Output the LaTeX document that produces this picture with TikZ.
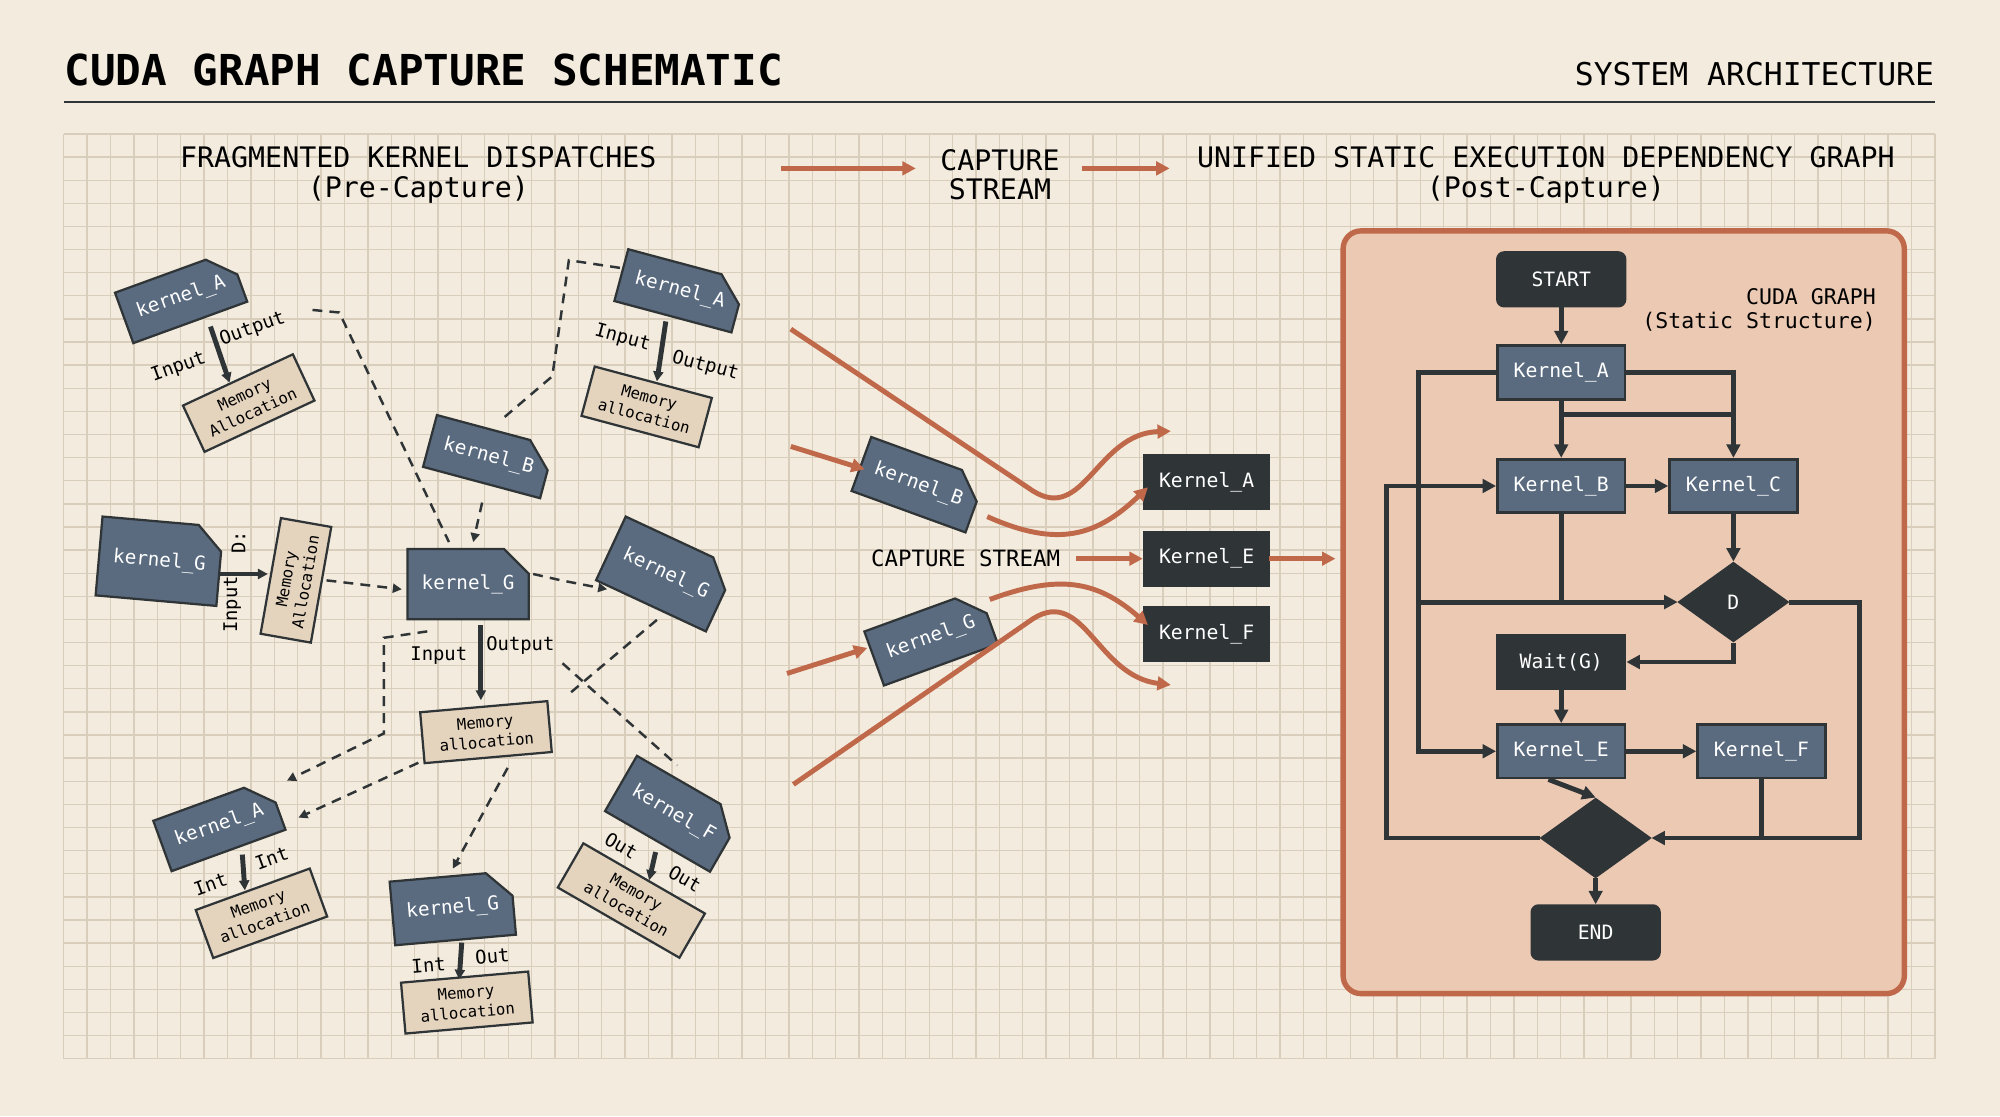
\documentclass[tikz,border=0pt]{standalone}
\usepackage{fontspec}
\setmainfont{DejaVu Sans Mono}
\usetikzlibrary{shapes.misc,shapes.geometric,arrows.meta}
\definecolor{bg}{HTML}{F3EBDD}
\definecolor{gridc}{HTML}{D9CDBB}
\definecolor{slate}{HTML}{5A6B80}
\definecolor{dark}{HTML}{2F3437}
\definecolor{tan}{HTML}{E4D4BE}
\definecolor{ora}{HTML}{C0694A}
\definecolor{panel}{HTML}{EBC9B3}
\tikzset{
 ker/.style={chamfered rectangle, chamfered rectangle corners=north east, chamfered rectangle sep=0.1cm, fill=slate, draw=dark, line width=0.5pt, text=white, font=\fontsize{4.3}{5}\selectfont, minimum width=0.8cm, minimum height=0.42cm, inner sep=0.5pt},
 mem/.style={rectangle, fill=tan, draw=dark, line width=0.5pt, font=\fontsize{3.5}{4.4}\selectfont, align=center, minimum width=0.95cm, minimum height=0.4cm, inner sep=0.8pt},
 lab/.style={font=\fontsize{4.2}{5}\selectfont, inner sep=0.5pt},
 sar/.style={-{Triangle[length=2.2pt,width=2.2pt]}, line width=1.1pt, draw=dark},
 dsh/.style={dashed, line width=0.55pt, draw=dark, dash pattern=on 2.2pt off 1.6pt},
 dsha/.style={dsh, -{Triangle[length=2pt,width=2pt]}},
 oar/.style={draw=ora, line width=1.1pt, -{Triangle[length=3pt,width=3pt]}},
 gd/.style={rectangle, draw=dark, line width=0.6pt, fill=dark, text=white, font=\fontsize{4.4}{5}\selectfont, minimum width=0.85cm, minimum height=0.42cm},
 gs/.style={rectangle, draw=dark, line width=0.6pt, fill=slate, text=white, font=\fontsize{4.4}{5}\selectfont, minimum width=1.0cm, minimum height=0.42cm},
 gr/.style={gd, rounded corners=1.5pt, minimum width=1.0cm},
 dia/.style={diamond, aspect=1.4, fill=dark, draw=dark, text=white, font=\fontsize{4.4}{5}\selectfont, minimum width=0.86cm, minimum height=0.62cm, inner sep=0pt},
 ge/.style={draw=dark, line width=1.1pt},
 gea/.style={ge, -{Triangle[length=3pt,width=3pt]}},
}
\begin{document}
\begin{tikzpicture}[x=0.01cm,y=-0.01cm]
\useasboundingbox (0,0) rectangle (1568,875);
\fill[bg] (0,0) rectangle (1568,875);
\foreach \i in {0,...,80} \draw[gridc,line width=0.3pt] ({50+\i*18.3375},105) -- ({50+\i*18.3375},830);
\foreach \j in {0,...,40} \draw[gridc,line width=0.3pt] (50,{105+\j*18.125}) -- (1517,{105+\j*18.125});
\draw[dark,line width=0.6pt] (50,80) -- (1517,80);
\node[anchor=west,font=\fontsize{9.5}{10}\selectfont\bfseries,inner sep=0] (title) at (50,55) {CUDA GRAPH CAPTURE SCHEMATIC};
\node[anchor=east,font=\fontsize{7}{8}\selectfont,inner sep=0] (sys) at (1517,58) {SYSTEM ARCHITECTURE};
\node[align=center,font=\fontsize{6.3}{6.6}\selectfont] (h1) at (328,137) {FRAGMENTED KERNEL DISPATCHES\\(Pre-Capture)};
\node[align=center,font=\fontsize{6.3}{6.6}\selectfont] (h2) at (784,137) {CAPTURE\\STREAM};
\node[align=center,font=\fontsize{6.3}{6.6}\selectfont] (h3) at (1212,137) {UNIFIED STATIC EXECUTION DEPENDENCY GRAPH\\(Post-Capture)};
\coordinate (t1) at (612,132); \coordinate (t2) at (718,132);
\coordinate (t3) at (848,132); \coordinate (t4) at (917,132);
\draw[oar] (t1) -- (t2); \draw[oar] (t3) -- (t4);

% ---- left cluster
\node[ker,rotate=20] (kA1) at (142,233) {kernel\_A};
\coordinate (a1s) at (165,256); \coordinate (a1e) at (180,300);
\draw[sar] (a1s) -- (a1e);
\node[lab,rotate=20] (l1) at (140,288) {Input};
\node[lab,rotate=20] (l2) at (198,258) {Output};
\node[mem,rotate=25] (m1) at (195,316) {Memory\\Allocation};

\node[ker,rotate=-15] (kA2) at (533,228) {kernel\_A};
\coordinate (a2s) at (522,252); \coordinate (a2e) at (515,299);
\draw[sar] (a2s) -- (a2e);
\node[lab,rotate=-15] (l3) at (488,265) {Input};
\node[lab,rotate=-15] (l4) at (553,287) {Output};
\node[mem,rotate=-15] (m2) at (507,319) {Memory\\allocation};

\node[ker,rotate=-15] (kB1) at (383,358) {kernel\_B};

\node[ker,rotate=-5,minimum height=0.62cm,minimum width=0.78cm] (kG1) at (125,440) {kernel\_G};
\coordinate (a3s) at (172,450); \coordinate (a3e) at (210,450);
\draw[sar] (a3s) -- (a3e);
\node[lab,rotate=90] (l5) at (187,425) {D:};
\node[lab,rotate=90] (l6) at (182,474) {Input};
\node[mem,rotate=80,minimum width=0.92cm] (m3) at (232,455) {Memory\\Allocation};

\node[ker,minimum width=0.9cm,minimum height=0.55cm] (kG2) at (367,458) {kernel\_G};
\coordinate (a4s) at (377,490); \coordinate (a4e) at (377,549);
\draw[sar] (a4s) -- (a4e);
\node[lab] (l7) at (344,514) {Input};
\node[lab] (l8) at (408,506) {Output};
\node[mem,rotate=5,minimum width=1.0cm] (m4) at (381,574) {Memory\\allocation};

\node[ker,rotate=-25,minimum height=0.55cm] (kG3) at (522,450) {kernel\_G};

\node[ker,rotate=20] (kA3) at (172,647) {kernel\_A};
\coordinate (a5s) at (190,670); \coordinate (a5e) at (192,698);
\draw[sar] (a5s) -- (a5e);
\node[lab,rotate=20] (l9) at (165,693) {Int};
\node[lab,rotate=20] (l10) at (213,673) {Int};
\node[mem,rotate=20] (m5) at (205,716) {Memory\\allocation};

\node[ker,rotate=5,minimum height=0.5cm] (kG4) at (355,712) {kernel\_G};
\coordinate (a6s) at (362,739); \coordinate (a6e) at (360,768);
\draw[sar] (a6s) -- (a6e);
\node[lab,rotate=5] (l11) at (336,757) {Int};
\node[lab,rotate=5] (l12) at (386,750) {Out};
\node[mem,rotate=5,minimum width=1.0cm] (m6) at (366,786) {Memory\\allocation};

\node[ker,rotate=-30,minimum height=0.5cm] (kF) at (528,638) {kernel\_F};
\coordinate (a7s) at (514,668); \coordinate (a7e) at (509,690);
\draw[sar] (a7s) -- (a7e);
\node[lab,rotate=-30] (l13) at (487,663) {Out};
\node[lab,rotate=-30] (l14) at (537,689) {Out};
\node[mem,rotate=-30,minimum width=1.1cm] (m7) at (495,706) {Memory\\allocation};

% dashed connectors
\coordinate (d1) at (245,243); \coordinate (d1b) at (266,245); \coordinate (d1c) at (352,425);
\draw[dsh] (d1) -- (d1b) -- (d1c);
\coordinate (d2) at (486,210); \coordinate (d2b) at (446,204); \coordinate (d2c) at (433,295); \coordinate (d2d) at (392,330);
\draw[dsh] (d2) -- (d2b) -- (d2c) -- (d2d);
\coordinate (d3) at (378,394); \coordinate (d3b) at (371,425);
\draw[dsha] (d3) -- (d3b);
\coordinate (d4) at (256,455); \coordinate (d4b) at (315,462);
\draw[dsha] (d4) -- (d4b);
\coordinate (d5) at (418,450); \coordinate (d5b) at (440,455); \coordinate (d5c) at (476,462);
\draw[dsha] (d5) -- (d5b) -- (d5c);
\coordinate (d6) at (515,486); \coordinate (d6b) at (445,545);
\draw[dsh] (d6) -- (d6b);
\coordinate (d7) at (335,495); \coordinate (d7b) at (301,500); \coordinate (d7c) at (301,575); \coordinate (d7d) at (225,612);
\draw[dsha] (d7) -- (d7b) -- (d7c) -- (d7d);
\coordinate (d8) at (328,598); \coordinate (d8b) at (234,641);
\draw[dsha] (d8) -- (d8b);
\coordinate (d9) at (398,602); \coordinate (d9b) at (355,681);
\draw[dsha] (d9) -- (d9b);
\coordinate (d10) at (441,520); \coordinate (d10b) at (531,600);
\draw[dsh] (d10) -- (d10b);

% ---- middle
\node[ker,rotate=-20,minimum height=0.45cm] (kB2) at (720,380) {kernel\_B};
\node[ker,rotate=20,minimum height=0.45cm] (kG5) at (730,500) {kernel\_G};
\node[gd] (cA) at (946,378) {Kernel\_A};
\node[gd] (cE) at (946,438) {Kernel\_E};
\node[gd] (cF) at (946,497) {Kernel\_F};
\node[font=\fontsize{5}{6}\selectfont] (cs) at (757,438) {CAPTURE STREAM};
\coordinate (o1) at (620,350); \coordinate (o1e) at (678,368);
\draw[oar] (o1) -- (o1e);
\coordinate (o2) at (617,528); \coordinate (o2e) at (680,508);
\draw[oar] (o2) -- (o2e);
\coordinate (o3) at (620,258); \coordinate (o3e) at (918,338);
\draw[oar] (o3) -- (810,385) .. controls (850,410) and (860,340) .. (o3e);
\coordinate (o4) at (622,615); \coordinate (o4e) at (918,537);
\draw[oar] (o4) -- (810,485) .. controls (850,460) and (860,530) .. (o4e);
\coordinate (o5) at (774,405); \coordinate (o5e) at (900,382);
\draw[oar] (o5) .. controls (830,430) and (860,420) .. (o5e);
\coordinate (o6) at (776,470); \coordinate (o6e) at (900,490);
\draw[oar] (o6) .. controls (830,450) and (860,455) .. (o6e);
\draw[oar] (cs.east) -- (cE.west);
\coordinate (o7) at (995,438); \coordinate (o7e) at (1047,438);
\draw[oar] (o7) -- (o7e);

% ---- right panel
\draw[ora,fill=panel,line width=1.2pt,rounded corners=4pt] (1053,181) rectangle (1493,779);
\node[anchor=east,align=right,font=\fontsize{4.8}{5.4}\selectfont] (cg) at (1483,243) {CUDA GRAPH\\(Static Structure)};
\node[gr] (S) at (1224,219) {START};
\node[gs] (gA) at (1224,292) {Kernel\_A};
\node[gs] (gB) at (1224,381) {Kernel\_B};
\node[gs] (gC) at (1359,381) {Kernel\_C};
\node[dia] (D) at (1359,472) {D};
\node[gd,minimum width=1.0cm] (W) at (1224,519) {Wait(G)};
\node[gs] (gE) at (1224,589) {Kernel\_E};
\node[gs] (gF) at (1381,589) {Kernel\_F};
\node[dia] (D2) at (1251,657) {};
\node[gr] (E) at (1251,731) {END};
\draw[gea] (S) -- (gA);
\draw[gea] (gA) -- (gB);
\draw[gea] (gA.east) -| (gC.north);
\coordinate (j1) at (1224,325); \coordinate (j2) at (1359,325);
\draw[ge] (j1) -- (j2);
\draw[gea] (gA.west) -| (1112,589) -- (gE.west);
\draw[gea] (gB) -- (gC);
\draw[gea] (gC) -- (D);
\draw[ge] (gB.south) -- (1224,472);
\coordinate (j3) at (1112,472);
\draw[gea] (j3) -- (D.west);
\draw[gea] (D.south) |- (W.east);
\draw[gea] (D.east) -| (1458,657) -- (D2.east);
\draw[gea] (W) -- (gE);
\draw[gea] (gE) -- (gF);
\draw[gea] ([xshift=-0.1cm]gE.south) -- (D2.north);
\draw[ge] (gF.south) -- (1381,657);
\draw[gea] (D2.west) -- (1087,657) |- (gB.west);
\draw[gea] (D2) -- (E);
\end{tikzpicture}
\end{document}
